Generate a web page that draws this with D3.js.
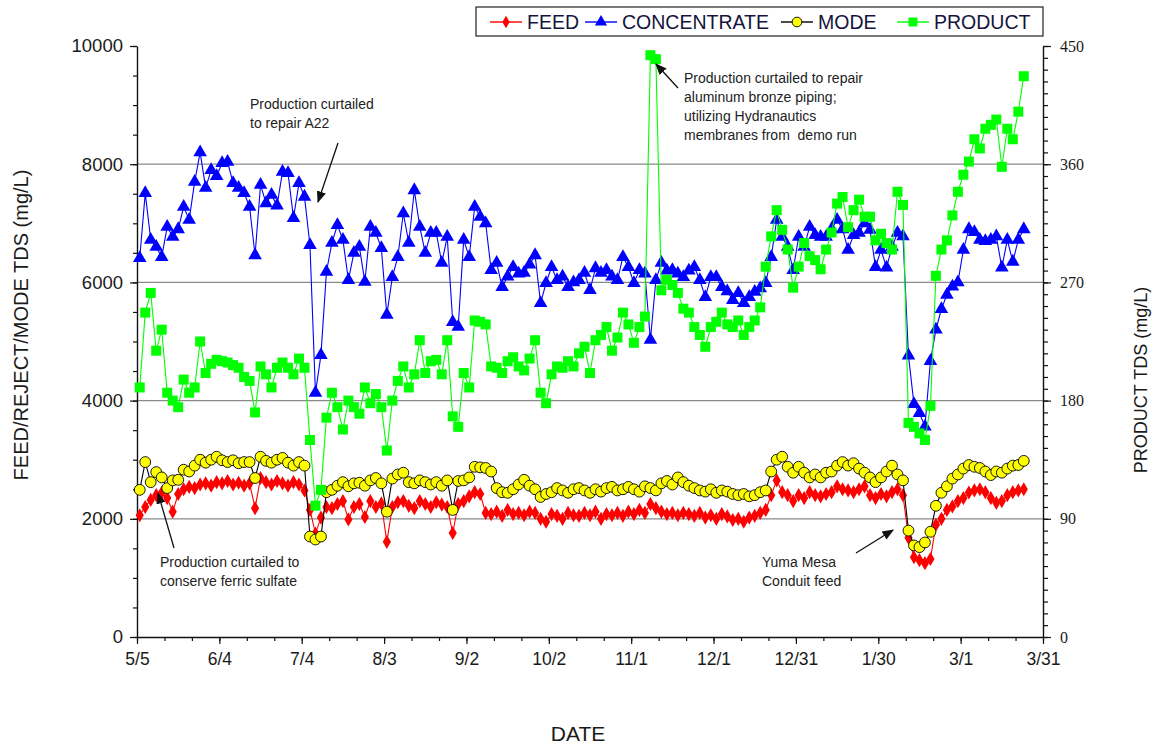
<!DOCTYPE html>
<html>
<head>
<meta charset="utf-8">
<script src="https://cdn.jsdelivr.net/npm/d3@7"></script>
<style>
  body { margin: 0; background: #fff; }
  svg { display: block; }
</style>
</head>
<body>
<svg id="chart" width="1162" height="746"></svg>
<script>
// Sampling days, counted from 5/5
const days = [
  1, 3, 5, 7, 9, 11, 13, 15, 17, 19,
  21, 23, 25, 27, 29, 31, 33, 35, 37, 39,
  41, 43, 45, 47, 49, 51, 53, 55, 57, 59,
  61, 63, 65, 67, 69, 71, 73, 75, 77, 79,
  81, 83, 85, 87, 89, 91, 93, 95, 97, 99,
  101, 103, 105, 107, 109, 111, 113, 115, 117, 119,
  121, 123, 125, 127, 129, 131, 133, 135, 137, 139,
  141, 143, 145, 147, 149, 151, 153, 155, 157, 159,
  161, 163, 165, 167, 169, 171, 173, 175, 177, 179,
  181, 183, 185, 187, 189, 191, 193, 195, 197, 199,
  201, 203, 205, 207, 209, 211, 213, 215, 217, 219,
  221, 223, 225, 227, 229, 231, 233, 235, 237, 239,
  241, 243, 245, 247, 249, 251, 253, 255, 257, 259,
  261, 263, 265, 267, 269, 271, 273, 275, 277, 279,
  281, 283, 285, 287, 289, 291, 293, 295, 297, 299,
  301, 303, 305, 307, 309, 311, 313, 315, 317, 319,
  321, 323
];

// Feed TDS (mg/L), left axis
const feed = [
  2060, 2200, 2320, 2400, 2440, 2350, 2120, 2420, 2500, 2540,
  2520, 2580, 2600, 2560, 2620, 2600, 2640, 2580, 2610, 2560,
  2600, 2180, 2690, 2620, 2580, 2640, 2600, 2560, 2620, 2580,
  2480, 2150, 1750, 2020, 2200, 2180, 2250, 2300, 1990, 2200,
  2250, 2030, 2300, 2200, 2260, 1610, 2200, 2280, 2300, 2220,
  2180, 2300, 2250, 2200, 2280, 2240, 2200, 1760, 2250, 2300,
  2380, 2450, 2420, 2100, 2080, 2120, 2050, 2150, 2080, 2100,
  2060, 2120, 2100, 2000, 1950, 2080, 2050, 2000, 2100, 2060,
  2050, 2100, 2060, 2120, 2000, 2080, 2060, 2100, 2050, 2120,
  2080, 2150, 2100, 2250, 2180, 2120, 2080, 2100, 2060, 2100,
  2080, 2050, 2100, 2020, 2060, 2000, 2080, 2040, 1980, 2000,
  1950, 2020, 2050, 2100, 2150, 2400, 2650, 2450, 2400, 2300,
  2400, 2350, 2450, 2400, 2380, 2420, 2450, 2550, 2500, 2480,
  2450, 2500, 2550, 2400, 2350, 2420, 2380, 2450, 2500, 2400,
  1680, 1350, 1300, 1250, 1320, 1900, 2000, 2150, 2210, 2300,
  2350, 2445, 2480, 2500, 2450, 2350, 2270, 2300, 2400, 2450,
  2480, 2500
];

// Concentrate (reject) TDS (mg/L), left axis
const concentrate = [
  6410, 7510, 6720, 6600, 6430, 6940, 6770, 6900, 7280, 7060,
  7700, 8200, 7600, 7900, 7800, 8020, 8040, 7680, 7600, 7510,
  7280, 6460, 7650, 7340, 7480, 7300, 7870, 7850, 7090, 7680,
  7450, 6630, 4130, 4770, 6180, 6670, 6970, 6720, 6040, 6500,
  6600, 6010, 6940, 6840, 6580, 5450, 6090, 6430, 7170, 6670,
  7560, 6940, 6500, 6840, 6840, 6330, 6770, 5330, 5250, 6720,
  6430, 7280, 7110, 7000, 6210, 6330, 5920, 6100, 6260, 6150,
  6160, 6300, 6460, 5650, 5990, 6260, 6040, 6100, 5920, 6000,
  6040, 6160, 5870, 6240, 6160, 6210, 6100, 6040, 6430, 6260,
  5990, 6210, 6150, 5030, 6040, 6330, 6200, 6210, 6150, 6090,
  6200, 6260, 6040, 5750, 6090, 6090, 5920, 5850, 5700, 5820,
  5650, 5750, 5840, 5900, 5990, 6430, 7060, 6770, 6600, 6210,
  6770, 6600, 6940, 6800, 6770, 6770, 6900, 7060, 6900, 6550,
  6800, 6840, 7000, 6890, 6260, 6550, 6250, 6600, 6840, 6780,
  4760, 3940, 3790, 3560, 4670, 5200, 5550, 5790, 5930, 6000,
  6550, 6900, 6850, 6720, 6700, 6720, 6780, 6250, 6720, 6350,
  6720, 6900
];

// Mode TDS (mg/L), left axis
const mode = [
  2490, 2960, 2620, 2790, 2700, 2520, 2650, 2660, 2830, 2800,
  2900, 3000, 2950, 3000, 3050, 2990, 2960, 2990, 2940, 2960,
  2960, 2690, 3050, 2980, 2950, 3000, 3030, 2950, 2900, 2960,
  2900, 1700, 1650, 1700, 2450, 2490, 2560, 2620, 2550, 2600,
  2610, 2560, 2650, 2690, 2600, 2120, 2680, 2750, 2780, 2620,
  2600, 2650, 2620, 2580, 2620, 2560, 2650, 2150, 2640, 2650,
  2700, 2880, 2870, 2860, 2800, 2520, 2450, 2440, 2500, 2580,
  2660, 2560, 2500, 2370, 2420, 2450, 2520, 2480, 2440, 2500,
  2520, 2480, 2440, 2500, 2460, 2520, 2540, 2480, 2500, 2540,
  2500, 2460, 2550, 2520, 2480, 2600, 2640, 2580, 2700, 2620,
  2560, 2520, 2480, 2460, 2500, 2440, 2480, 2460, 2420, 2400,
  2420, 2380, 2400, 2450, 2480, 2800, 3000, 3050, 2880, 2780,
  2880, 2780, 2700, 2750, 2700, 2780, 2800, 2900, 2960, 2900,
  2940, 2850, 2780, 2700, 2620, 2700, 2800, 2900, 2750, 2650,
  1800, 1550, 1520, 1600, 1780, 2220, 2440, 2550, 2680, 2750,
  2850, 2910, 2880, 2860, 2800, 2740, 2800, 2780, 2850, 2900,
  2910, 2980
];

// Product TDS (mg/L), right axis
const product = [
  190, 247, 262, 218, 234, 186, 180, 175, 196, 186,
  190, 225, 201, 208, 211, 210, 209, 207, 205, 198,
  195, 171, 206, 200, 190, 205, 209, 205, 200, 212,
  205, 150, 100, 112, 167, 186, 175, 158, 180, 175,
  170, 190, 178, 185, 175, 142, 180, 195, 206, 190,
  200, 226, 201, 210, 211, 200, 226, 168, 160, 201,
  190, 241, 240, 238, 206, 205, 201, 210, 213, 206,
  203, 212, 226, 186, 178, 200, 206, 205, 210, 206,
  216, 221, 201, 226, 230, 236, 218, 228, 247, 238,
  224, 236, 244, 443, 440, 264, 272, 268, 262, 250,
  247, 236, 230, 221, 236, 240, 247, 238, 236, 241,
  230, 236, 241, 251, 282, 305, 325, 310, 295, 266,
  282, 300, 290, 287, 280, 295, 308, 330, 335, 312,
  325, 333, 320, 320, 302, 307, 300, 295, 339, 329,
  163, 160, 155, 150, 176, 275, 295, 302, 321, 339,
  352, 362, 379, 372, 387, 390, 394, 358, 387, 379,
  400, 427
];

const xTickDays = [0, 30, 60, 90, 120, 150, 180, 210, 240, 270, 300, 330];
const xTickLabels = ["5/5", "6/4", "7/4", "8/3", "9/2", "10/2", "11/1", "12/1", "12/31", "1/30", "3/1", "3/31"];
const leftTicks = [0, 2000, 4000, 6000, 8000, 10000];
const rightTicks = [0, 90, 180, 270, 360, 450];

const svg = d3.select("#chart");
const M = { left: 137, right: 1043, top: 46, bottom: 637 };
const SANS = "Liberation Sans, Arial, sans-serif";

const x = d3.scaleLinear().domain([0, 330]).range([M.left, M.right]);
const yL = d3.scaleLinear().domain([0, 10000]).range([M.bottom, M.top]);
const yR = d3.scaleLinear().domain([0, 450]).range([M.bottom, M.top]);

// Horizontal grid lines
svg.append("g").selectAll("line")
  .data(leftTicks.filter(t => t > 0 && t < 10000))
  .join("line")
  .attr("x1", M.left).attr("x2", M.right)
  .attr("y1", d => yL(d)).attr("y2", d => yL(d))
  .attr("stroke", "#8a8a8a").attr("stroke-width", 1.2);

function styleAxis(g, family, size) {
  g.selectAll("path.domain").attr("stroke", "#111").attr("stroke-width", 1.4);
  g.selectAll(".tick line").attr("stroke", "#111").attr("stroke-width", 1.2);
  g.selectAll("text").attr("font-family", family).attr("font-size", size).attr("fill", "#1a1a1a");
}
function minorTicks(g) {
  g.select(".domain").remove();
  g.selectAll(".tick line").attr("stroke", "#111").attr("stroke-width", 1.2);
}

// Left axis: minor ticks every 500, labelled majors every 2000
svg.append("g").attr("transform", `translate(${M.left},0)`)
  .call(d3.axisLeft(yL).tickValues(d3.range(0, 10001, 500)).tickSize(4).tickFormat(""))
  .call(minorTicks);
svg.append("g").attr("transform", `translate(${M.left},0)`)
  .call(d3.axisLeft(yL).tickValues(leftTicks).tickSize(7).tickSizeOuter(0).tickPadding(7).tickFormat(d3.format("d")))
  .call(g => styleAxis(g, SANS, 18.5));

// Right axis: minor ticks every 9, labelled majors every 90
svg.append("g").attr("transform", `translate(${M.right},0)`)
  .call(d3.axisRight(yR).tickValues(d3.range(0, 451, 9)).tickSize(5).tickFormat(""))
  .call(minorTicks);
svg.append("g").attr("transform", `translate(${M.right},0)`)
  .call(d3.axisRight(yR).tickValues(rightTicks).tickSize(8).tickSizeOuter(0).tickPadding(9).tickFormat(d3.format("d")))
  .call(g => styleAxis(g, "Liberation Serif, Times New Roman, serif", 16));

// Bottom axis: minor ticks every 10 days, labelled every 30 days
svg.append("g").attr("transform", `translate(0,${M.bottom})`)
  .call(d3.axisBottom(x).tickValues(d3.range(0, 331, 10)).tickSize(4).tickFormat(""))
  .call(minorTicks);
svg.append("g").attr("transform", `translate(0,${M.bottom})`)
  .call(d3.axisBottom(x).tickValues(xTickDays).tickSize(7).tickSizeOuter(0).tickPadding(9)
    .tickFormat((d, i) => xTickLabels[i]))
  .call(g => styleAxis(g, SANS, 17.5));

// Axis titles
svg.append("text")
  .attr("transform", "translate(28,325) rotate(-90)")
  .attr("text-anchor", "middle")
  .attr("font-family", SANS).attr("font-size", 20).attr("fill", "#1a1a1a")
  .text("FEED/REJECT/MODE TDS (mg/L)");
svg.append("text")
  .attr("transform", "translate(1147,380) rotate(-90)")
  .attr("text-anchor", "middle")
  .attr("font-family", SANS).attr("font-size", 18).attr("fill", "#1a1a1a")
  .text("PRODUCT TDS (mg/L)");
svg.append("text")
  .attr("x", 578).attr("y", 741)
  .attr("text-anchor", "middle")
  .attr("font-family", SANS).attr("font-size", 21).attr("fill", "#1a1a1a")
  .text("DATE");

// Series definitions
const series = [
  { name: "FEED", values: feed, y: yL, line: "#ff0000", fill: "#ff0000", stroke: "none", symbol: d3.symbolDiamond, size: 58 },
  { name: "CONCENTRATE", values: concentrate, y: yL, line: "#0000ff", fill: "#0000ff", stroke: "none", symbol: d3.symbolTriangle, size: 80 },
  { name: "MODE", values: mode, y: yL, line: "#000000", fill: "#ffff00", stroke: "#000000", symbol: d3.symbolCircle, size: 92 },
  { name: "PRODUCT", values: product, y: yR, line: "#00ff00", fill: "#00ff00", stroke: "none", symbol: d3.symbolSquare, size: 100 }
];

const plot = svg.append("g");
series.forEach(s => {
  const pts = days.map((d, i) => ({ day: d, v: s.values[i] }));
  const g = plot.append("g");
  g.append("path")
    .datum(pts)
    .attr("fill", "none")
    .attr("stroke", s.line)
    .attr("stroke-width", 1.1)
    .attr("d", d3.line().x(p => x(p.day)).y(p => s.y(p.v)));
  g.selectAll("path.pt")
    .data(pts)
    .join("path")
    .attr("class", "pt")
    .attr("transform", p => `translate(${x(p.day)},${s.y(p.v)})`)
    .attr("d", d3.symbol().type(s.symbol).size(s.size))
    .attr("fill", s.fill)
    .attr("stroke", s.stroke)
    .attr("stroke-width", s.stroke === "none" ? 0 : 0.9);
});

// Legend
const legend = svg.append("g");
legend.append("rect")
  .attr("x", 476).attr("y", 7).attr("width", 567).attr("height", 29)
  .attr("fill", "#fff").attr("stroke", "#222").attr("stroke-width", 1.2);
const legendX = [490, 585, 781, 897];
series.forEach((s, i) => {
  const lx = legendX[i];
  legend.append("line")
    .attr("x1", lx).attr("x2", lx + 32).attr("y1", 22).attr("y2", 22)
    .attr("stroke", s.line).attr("stroke-width", 1.4);
  legend.append("path")
    .attr("transform", `translate(${lx + 16},22)`)
    .attr("d", d3.symbol().type(s.symbol).size(s.size * 0.8))
    .attr("fill", s.fill).attr("stroke", s.stroke).attr("stroke-width", s.stroke === "none" ? 0 : 0.9);
  legend.append("text")
    .attr("x", lx + 37).attr("y", 29)
    .attr("font-family", SANS).attr("font-size", 19.5).attr("fill", "#14143c")
    .text(s.name);
});

// Annotations
const defs = svg.append("defs");
defs.append("marker")
  .attr("id", "arrowhead").attr("viewBox", "0 0 10 10")
  .attr("refX", 9).attr("refY", 5).attr("markerWidth", 9).attr("markerHeight", 9)
  .attr("orient", "auto-start-reverse")
  .append("path").attr("d", "M0,1 L10,5 L0,9 z").attr("fill", "#111");

const notes = [
  { lines: ["Production curtailed", "to repair A22"], x: 250, y: 109, from: [338, 143], to: [318, 202] },
  { lines: ["Production curtailed to repair", "aluminum bronze piping;", "utilizing Hydranautics", "membranes from  demo run"], x: 684, y: 83, from: [678, 88], to: [656, 64] },
  { lines: ["Production curtailed to", "conserve ferric sulfate"], x: 160, y: 567, from: [174, 548], to: [158, 493] },
  { lines: ["Yuma Mesa", "Conduit feed"], x: 762, y: 567, from: [856, 553], to: [893, 530] }
];
notes.forEach(n => {
  const t = svg.append("text")
    .attr("font-family", SANS).attr("font-size", 14).attr("fill", "#222");
  n.lines.forEach((ln, i) => {
    t.append("tspan").attr("x", n.x).attr("y", n.y + i * 19).attr("xml:space", "preserve").text(ln);
  });
  svg.append("line")
    .attr("x1", n.from[0]).attr("y1", n.from[1]).attr("x2", n.to[0]).attr("y2", n.to[1])
    .attr("stroke", "#111").attr("stroke-width", 1.3)
    .attr("marker-end", "url(#arrowhead)");
});
</script>
</body>
</html>
